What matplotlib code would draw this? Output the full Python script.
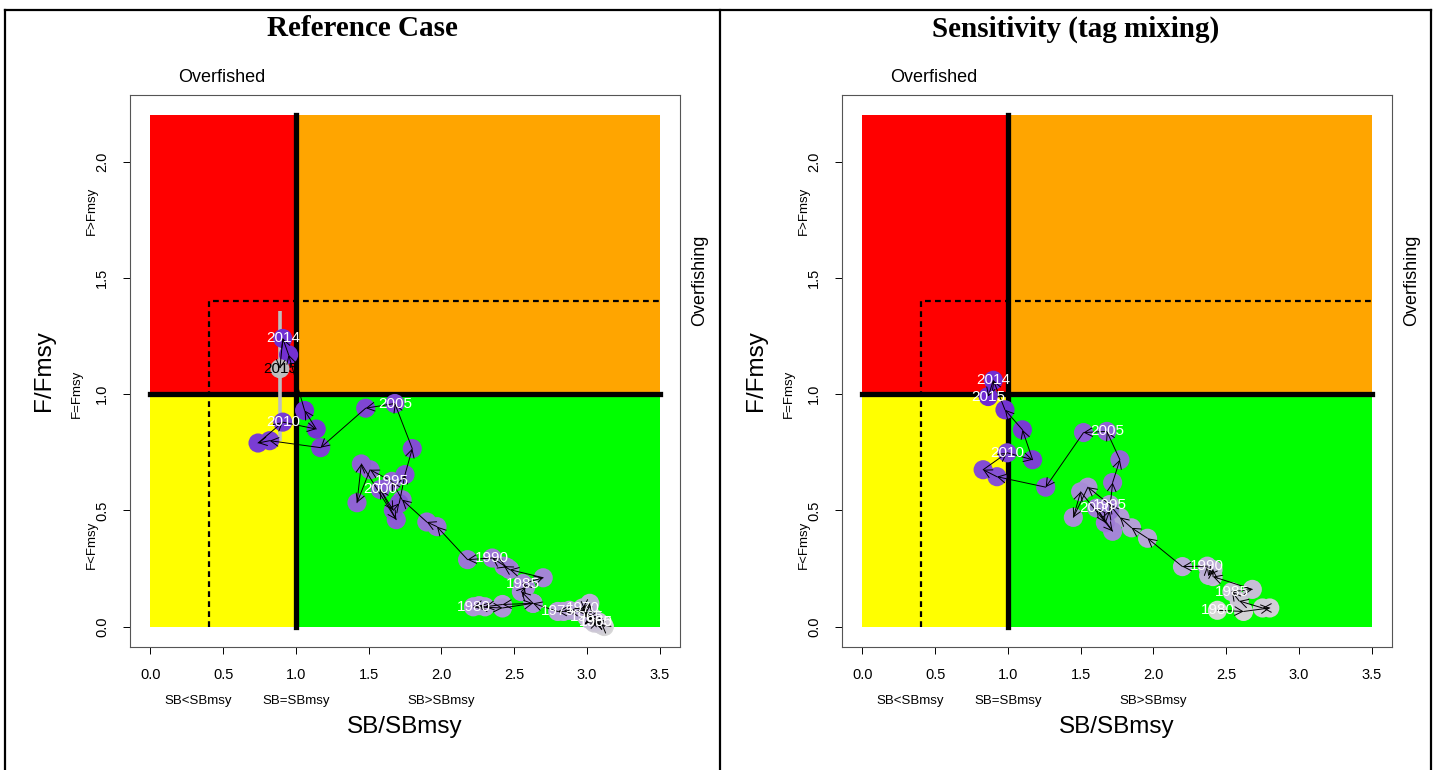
import matplotlib
matplotlib.use("Agg")
import matplotlib.pyplot as plt
from matplotlib.colors import LinearSegmentedColormap
from matplotlib.lines import Line2D
from matplotlib.patches import Rectangle
import numpy as np

plt.rcParams["font.family"] = ["Liberation Sans", "DejaVu Sans"]

# reference case: SB/SBmsy and F/Fmsy by year
ref_year = list(range(1952, 2016))
ref_sb = [
    3.12, 3.10, 3.11, 3.06, 3.09, 3.05, 3.08, 3.04,
    3.06, 3.02, 3.05, 3.01, 3.04, 3.00, 3.02, 2.98,
    3.01, 3.02, 2.97, 2.99, 2.93, 2.88, 2.84, 2.80,
    2.63, 2.42, 2.30, 2.26, 2.22, 2.42, 2.63, 2.55,
    2.58, 2.56, 2.70, 2.47, 2.43, 2.45, 2.35, 2.18,
    1.97, 1.90, 1.73, 1.66, 1.51, 1.42, 1.45, 1.69,
    1.58, 1.67, 1.71, 1.75, 1.80, 1.68, 1.48, 1.17,
    0.82, 0.74, 0.91, 1.14, 1.06, 0.95, 0.91, 0.89,
]
ref_f = [
    0.00, 0.01, 0.005, 0.02, 0.01, 0.015, 0.02, 0.025,
    0.02, 0.03, 0.03, 0.035, 0.04, 0.04, 0.05, 0.06,
    0.075, 0.10, 0.08, 0.07, 0.065, 0.07, 0.065, 0.065,
    0.10, 0.095, 0.085, 0.09, 0.085, 0.08, 0.10, 0.15,
    0.17, 0.185, 0.21, 0.245, 0.26, 0.255, 0.295, 0.288,
    0.43, 0.45, 0.546, 0.625, 0.675, 0.533, 0.70, 0.46,
    0.59, 0.50, 0.53, 0.654, 0.766, 0.96, 0.94, 0.77,
    0.80, 0.79, 0.88, 0.85, 0.93, 1.17, 1.24, 1.11,
]
# terminal-year F/Fmsy interval (reference case)
ref_f_lo, ref_f_hi = 0.80, 1.36

# sensitivity run (tag mixing)
sens_year = list(range(1980, 2016))
sens_sb = [
    2.44, 2.62, 2.80, 2.75, 2.59, 2.54, 2.68, 2.41,
    2.41, 2.38, 2.37, 2.20, 1.96, 1.85, 1.77, 1.70,
    1.55, 1.45, 1.50, 1.72, 1.61, 1.67, 1.70, 1.72,
    1.77, 1.68, 1.52, 1.26, 0.925, 0.83, 0.995, 1.17,
    1.10, 0.98, 0.90, 0.865,
]
sens_f = [
    0.07, 0.065, 0.08, 0.08, 0.11, 0.15, 0.16, 0.215,
    0.245, 0.22, 0.26, 0.258, 0.38, 0.425, 0.47, 0.525,
    0.60, 0.47, 0.58, 0.41, 0.51, 0.447, 0.50, 0.62,
    0.718, 0.84, 0.835, 0.60, 0.645, 0.675, 0.748, 0.718,
    0.847, 0.933, 1.06, 0.99,
]

XMAX, YMAX = 3.5, 2.2
SB_LIM, F_LIM = 1.0, 1.0
SB_LOW, F_HIGH = 0.4, 1.4

W, H = 1437, 770
ramp = LinearSegmentedColormap.from_list("yrs", ["#d6d6d6", "#a98ed6", "#6f2ad2"])


def kobe(ax, sb, f, years, label_years, last_gray=False, interval=None):
    ax.set_xlim(-0.14, 3.64)
    ax.set_ylim(-0.088, 2.288)
    ax.add_patch(Rectangle((0, F_LIM), SB_LIM, YMAX - F_LIM, color="#ff0000", lw=0, zorder=0))
    ax.add_patch(Rectangle((SB_LIM, F_LIM), XMAX - SB_LIM, YMAX - F_LIM, color="#ffa500", lw=0, zorder=0))
    ax.add_patch(Rectangle((0, 0), SB_LIM, F_LIM, color="#ffff00", lw=0, zorder=0))
    ax.add_patch(Rectangle((SB_LIM, 0), XMAX - SB_LIM, F_LIM, color="#00ff00", lw=0, zorder=0))
    ax.plot([SB_LIM, SB_LIM], [0, YMAX], color="black", lw=3.8, zorder=2)
    ax.plot([0, XMAX], [F_LIM, F_LIM], color="black", lw=3.8, zorder=2)
    ax.plot([SB_LOW, SB_LOW, XMAX], [0, F_HIGH, F_HIGH], color="black", lw=1.6,
            dashes=(2.6, 1.9), zorder=2)

    n = len(sb)
    cols = [ramp(i / (n - 1)) for i in range(n)]
    if last_gray:
        cols[-1] = "#bebebe"
    if interval is not None:
        ax.plot([sb[-1], sb[-1]], interval, color="#bebebe", lw=2.6, zorder=3,
                solid_capstyle="butt")
    ax.scatter(sb, f, s=190, c=cols, edgecolors="none", zorder=4)
    for i in range(n - 1):
        ax.annotate("", xy=(sb[i + 1], f[i + 1]), xytext=(sb[i], f[i]),
                    arrowprops=dict(arrowstyle="->,head_length=0.4,head_width=0.22",
                                    lw=0.7, color="black", shrinkA=0, shrinkB=0,
                                    mutation_scale=14), zorder=5)
    for yr, x, y in zip(years, sb, f):
        if yr in label_years:
            c = "black" if (last_gray and yr == years[-1]) else "white"
            ax.text(x, y, str(yr), color=c, fontsize=11, ha="center", va="center", zorder=6)

    for s in ax.spines.values():
        s.set_color("#555555")
        s.set_linewidth(0.8)
    ax.set_xticks(np.arange(0, 3.51, 0.5))
    ax.set_yticks(np.arange(0, 2.01, 0.5))
    ax.set_xticklabels([f"{v:.1f}" for v in np.arange(0, 3.51, 0.5)])
    ax.set_yticklabels([f"{v:.1f}" for v in np.arange(0, 2.01, 0.5)], rotation=90, va="center")
    ax.tick_params(axis="both", direction="out", length=5, width=0.7, labelsize=10.5)
    ax.tick_params(axis="x", pad=10)
    ax.tick_params(axis="y", pad=10)

    tx = ax.get_xaxis_transform()
    ty = ax.get_yaxis_transform()
    for xv, s in [(0.33, "SB<SBmsy"), (1.0, "SB=SBmsy"), (2.0, "SB>SBmsy")]:
        ax.text(xv, -0.098, s, transform=tx, fontsize=9.5, ha="center", va="center")
    ax.text(0.5, -0.145, "SB/SBmsy", transform=ax.transAxes, fontsize=17.5, ha="center", va="center")
    for yv, xa, s in [(1.79, -0.069, "F>Fmsy"), (1.0, -0.096, "F=Fmsy"), (0.35, -0.069, "F<Fmsy")]:
        ax.text(xa, yv, s, transform=ty, fontsize=9.5, rotation=90, ha="center", va="center")
    ax.text(-0.156, 0.5, "F/Fmsy", transform=ax.transAxes, fontsize=17.5, rotation=90,
            ha="center", va="center")
    ax.text(0.49, 1.0326, "Overfished", transform=tx, fontsize=13, ha="center", va="center")
    ax.text(1.036, 1.49, "Overfishing", transform=ty, fontsize=13, rotation=90,
            ha="center", va="center")


fig = plt.figure(figsize=(W / 100, H / 100), dpi=100)
axL = fig.add_axes([130 / W, (H - 647) / H, 550 / W, 552 / H])
axR = fig.add_axes([842 / W, (H - 647) / H, 550 / W, 552 / H])

ref_labels = [y for y in ref_year if y % 5 == 0 and y >= 1955] + [2014, 2015]
sens_labels = [y for y in sens_year if y % 5 == 0] + [2014, 2015]
kobe(axL, ref_sb, ref_f, ref_year, ref_labels, last_gray=True, interval=(ref_f_lo, ref_f_hi))
kobe(axR, sens_sb, sens_f, sens_year, sens_labels)

fig.text(362.5 / W, 1 - 29 / H, "Reference Case", fontsize=21, fontweight="bold",
         family="Liberation Serif", ha="center", va="center")
fig.text(1075.5 / W, 1 - 29 / H, "Sensitivity (tag mixing)", fontsize=21, fontweight="bold",
         family="Liberation Serif", ha="center", va="center")

# panel frame
def fline(xs, ys):
    fig.add_artist(Line2D([x / W for x in xs], [1 - y / H for y in ys], color="black", lw=1.6))

fline([5, 1431], [10, 10])
fline([5, 5], [10, 770])
fline([1431, 1431], [10, 770])
fline([720, 720], [10, 770])

fig.savefig("out.png", dpi=100, facecolor="white")
